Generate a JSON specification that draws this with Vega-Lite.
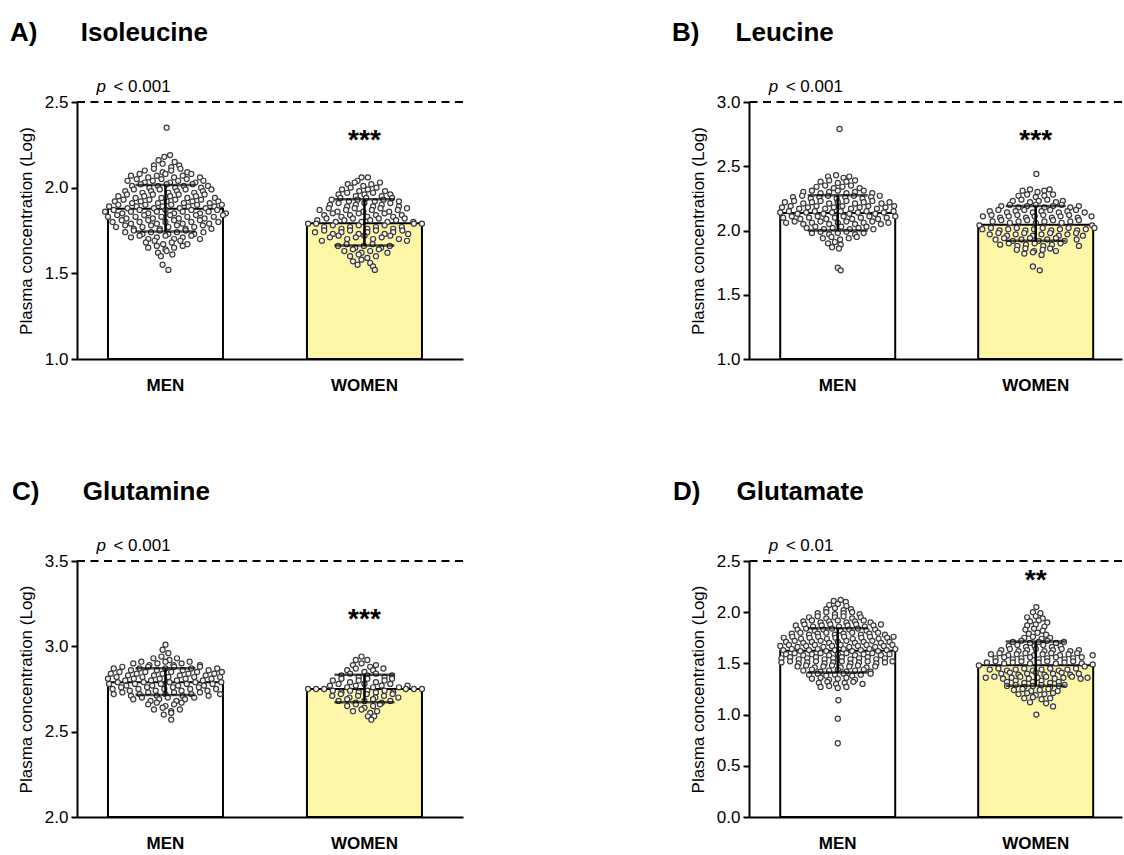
{
"$schema": "https://vega.github.io/schema/vega-lite/v6.json",
"padding": {"left": 10, "top": 20, "right": 0, "bottom": 0},
"columns": 2,
"spacing": {"row": 86, "column": 208},
"align": "all",
"config": {
 "font": "Liberation Sans",
 "view": {"stroke": null},
 "axis": {"grid": false, "domainColor": "#000", "domainWidth": 2, "tickColor": "#000", "tickWidth": 2, "labelColor": "#000", "labelFont": "Liberation Sans", "titleColor": "#000", "titleFont": "Liberation Sans", "titleFontWeight": "normal"},
 "axisY": {"tickSize": 6, "labelPadding": 3, "labelFontSize": 17, "titleFontSize": 17, "titlePadding": 9},
 "axisX": {"ticks": false, "tickSize": 0, "labelFontSize": 17, "labelFontWeight": "bold", "labelPadding": 18, "labelAngle": 0},
 "title": {"anchor": "start", "frame": "group", "font": "Liberation Sans", "fontSize": 26, "fontWeight": "bold", "color": "#000", "baseline": "alphabetic", "offset": 32},
 "text": {"font": "Liberation Sans", "color": "#000"}
},
"datasets": {
 "sA": [{"g":"M","mean":1.877,"lo":1.744,"hi":2.015},{"g":"W","mean":1.793,"lo":1.662,"hi":1.932}],
 "sB": [{"g":"M","mean":2.136,"lo":2.0,"hi":2.274},{"g":"W","mean":2.045,"lo":1.92,"hi":2.19}],
 "sC": [{"g":"M","mean":2.789,"lo":2.715,"hi":2.872},{"g":"W","mean":2.75,"lo":2.673,"hi":2.834}],
 "sD": [{"g":"M","mean":1.624,"lo":1.41,"hi":1.844},{"g":"W","mean":1.483,"lo":1.282,"hi":1.714}],
 "A": [
{"g":"M","j":0.02,"v":2.35},
{"g":"M","j":-0.02,"v":2.18},{"g":"M","j":0.08,"v":2.19},
{"g":"M","j":-0.12,"v":2.16},{"g":"M","j":0.16,"v":2.15},
{"g":"M","j":-0.2,"v":2.13},{"g":"M","j":-0.05,"v":2.14},{"g":"M","j":0.1,"v":2.12},{"g":"M","j":0.24,"v":2.13},
{"g":"M","j":-0.36,"v":2.10},{"g":"M","j":-0.2,"v":2.11},{"g":"M","j":-0.05,"v":2.09},{"g":"M","j":0.1,"v":2.10},{"g":"M","j":0.26,"v":2.11},{"g":"M","j":0.38,"v":2.09},
{"g":"M","j":-0.6,"v":2.07},{"g":"M","j":-0.45,"v":2.08},{"g":"M","j":-0.3,"v":2.06},{"g":"M","j":-0.15,"v":2.07},{"g":"M","j":0,"v":2.08},{"g":"M","j":0.15,"v":2.06},{"g":"M","j":0.3,"v":2.07},{"g":"M","j":0.45,"v":2.08},{"g":"M","j":0.6,"v":2.06},
{"g":"M","j":-0.66,"v":2.04},{"g":"M","j":-0.5,"v":2.05},{"g":"M","j":-0.36,"v":2.03},{"g":"M","j":-0.22,"v":2.04},{"g":"M","j":-0.07,"v":2.05},{"g":"M","j":0.08,"v":2.03},{"g":"M","j":0.22,"v":2.04},{"g":"M","j":0.37,"v":2.05},{"g":"M","j":0.52,"v":2.03},{"g":"M","j":0.66,"v":2.04},
{"g":"M","j":-0.58,"v":2.01},{"g":"M","j":-0.43,"v":2.02},{"g":"M","j":-0.28,"v":2.00},{"g":"M","j":-0.13,"v":2.01},{"g":"M","j":0.02,"v":2.02},{"g":"M","j":0.17,"v":2.00},{"g":"M","j":0.32,"v":2.01},{"g":"M","j":0.47,"v":2.02},{"g":"M","j":0.62,"v":2.00},{"g":"M","j":0.74,"v":2.01},
{"g":"M","j":-0.7,"v":1.98},{"g":"M","j":-0.55,"v":1.99},{"g":"M","j":-0.4,"v":1.97},{"g":"M","j":-0.25,"v":1.98},{"g":"M","j":-0.1,"v":1.99},{"g":"M","j":0.05,"v":1.97},{"g":"M","j":0.2,"v":1.98},{"g":"M","j":0.35,"v":1.99},{"g":"M","j":0.5,"v":1.97},{"g":"M","j":0.65,"v":1.98},{"g":"M","j":0.8,"v":1.99},
{"g":"M","j":-0.82,"v":1.95},{"g":"M","j":-0.67,"v":1.96},{"g":"M","j":-0.52,"v":1.94},{"g":"M","j":-0.37,"v":1.95},{"g":"M","j":-0.22,"v":1.96},{"g":"M","j":-0.07,"v":1.94},{"g":"M","j":0.08,"v":1.95},{"g":"M","j":0.23,"v":1.96},{"g":"M","j":0.38,"v":1.94},{"g":"M","j":0.53,"v":1.95},{"g":"M","j":0.68,"v":1.96},{"g":"M","j":0.86,"v":1.94},
{"g":"M","j":-0.88,"v":1.92},{"g":"M","j":-0.73,"v":1.93},{"g":"M","j":-0.58,"v":1.91},{"g":"M","j":-0.43,"v":1.92},{"g":"M","j":-0.28,"v":1.93},{"g":"M","j":-0.13,"v":1.91},{"g":"M","j":0.02,"v":1.92},{"g":"M","j":0.17,"v":1.93},{"g":"M","j":0.32,"v":1.91},{"g":"M","j":0.47,"v":1.92},{"g":"M","j":0.62,"v":1.93},{"g":"M","j":0.77,"v":1.91},{"g":"M","j":0.92,"v":1.92},
{"g":"M","j":-0.98,"v":1.89},{"g":"M","j":-0.82,"v":1.90},{"g":"M","j":-0.66,"v":1.88},{"g":"M","j":-0.5,"v":1.89},{"g":"M","j":-0.35,"v":1.90},{"g":"M","j":-0.2,"v":1.88},{"g":"M","j":-0.05,"v":1.89},{"g":"M","j":0.1,"v":1.90},{"g":"M","j":0.25,"v":1.88},{"g":"M","j":0.4,"v":1.89},{"g":"M","j":0.55,"v":1.90},{"g":"M","j":0.7,"v":1.88},{"g":"M","j":0.85,"v":1.89},{"g":"M","j":0.98,"v":1.90},
{"g":"M","j":-1.05,"v":1.86},{"g":"M","j":-0.9,"v":1.87},{"g":"M","j":-0.75,"v":1.85},{"g":"M","j":-0.6,"v":1.86},{"g":"M","j":-0.45,"v":1.87},{"g":"M","j":-0.3,"v":1.85},{"g":"M","j":-0.15,"v":1.86},{"g":"M","j":0,"v":1.87},{"g":"M","j":0.15,"v":1.85},{"g":"M","j":0.3,"v":1.86},{"g":"M","j":0.45,"v":1.87},{"g":"M","j":0.6,"v":1.85},{"g":"M","j":0.75,"v":1.86},{"g":"M","j":0.9,"v":1.87},{"g":"M","j":1.05,"v":1.85},
{"g":"M","j":-1,"v":1.83},{"g":"M","j":-0.84,"v":1.84},{"g":"M","j":-0.68,"v":1.82},{"g":"M","j":-0.52,"v":1.83},{"g":"M","j":-0.37,"v":1.84},{"g":"M","j":-0.22,"v":1.82},{"g":"M","j":-0.07,"v":1.83},{"g":"M","j":0.08,"v":1.84},{"g":"M","j":0.23,"v":1.82},{"g":"M","j":0.38,"v":1.83},{"g":"M","j":0.53,"v":1.84},{"g":"M","j":0.68,"v":1.82},{"g":"M","j":0.84,"v":1.83},{"g":"M","j":1,"v":1.84},
{"g":"M","j":-0.92,"v":1.80},{"g":"M","j":-0.76,"v":1.81},{"g":"M","j":-0.6,"v":1.79},{"g":"M","j":-0.45,"v":1.80},{"g":"M","j":-0.3,"v":1.81},{"g":"M","j":-0.15,"v":1.79},{"g":"M","j":0,"v":1.80},{"g":"M","j":0.15,"v":1.81},{"g":"M","j":0.3,"v":1.79},{"g":"M","j":0.45,"v":1.80},{"g":"M","j":0.6,"v":1.81},{"g":"M","j":0.76,"v":1.79},{"g":"M","j":0.92,"v":1.80},
{"g":"M","j":-0.86,"v":1.77},{"g":"M","j":-0.7,"v":1.78},{"g":"M","j":-0.55,"v":1.76},{"g":"M","j":-0.4,"v":1.77},{"g":"M","j":-0.25,"v":1.78},{"g":"M","j":-0.1,"v":1.76},{"g":"M","j":0.05,"v":1.77},{"g":"M","j":0.2,"v":1.78},{"g":"M","j":0.35,"v":1.76},{"g":"M","j":0.5,"v":1.77},{"g":"M","j":0.65,"v":1.78},{"g":"M","j":0.8,"v":1.76},
{"g":"M","j":-0.7,"v":1.74},{"g":"M","j":-0.55,"v":1.75},{"g":"M","j":-0.4,"v":1.73},{"g":"M","j":-0.25,"v":1.74},{"g":"M","j":-0.1,"v":1.75},{"g":"M","j":0.05,"v":1.73},{"g":"M","j":0.2,"v":1.74},{"g":"M","j":0.35,"v":1.75},{"g":"M","j":0.5,"v":1.73},{"g":"M","j":0.66,"v":1.74},
{"g":"M","j":-0.6,"v":1.71},{"g":"M","j":-0.45,"v":1.72},{"g":"M","j":-0.3,"v":1.70},{"g":"M","j":-0.15,"v":1.71},{"g":"M","j":0,"v":1.72},{"g":"M","j":0.15,"v":1.70},{"g":"M","j":0.3,"v":1.71},{"g":"M","j":0.45,"v":1.72},{"g":"M","j":0.6,"v":1.70},
{"g":"M","j":-0.34,"v":1.68},{"g":"M","j":-0.19,"v":1.69},{"g":"M","j":-0.04,"v":1.67},{"g":"M","j":0.11,"v":1.68},{"g":"M","j":0.26,"v":1.69},{"g":"M","j":0.38,"v":1.67},
{"g":"M","j":-0.3,"v":1.65},{"g":"M","j":-0.15,"v":1.66},{"g":"M","j":0,"v":1.64},{"g":"M","j":0.15,"v":1.65},{"g":"M","j":0.3,"v":1.66},
{"g":"M","j":-0.13,"v":1.62},{"g":"M","j":0.02,"v":1.63},{"g":"M","j":0.12,"v":1.61},
{"g":"M","j":-0.08,"v":1.60},{"g":"M","j":-0.05,"v":1.55},{"g":"M","j":0.05,"v":1.52},
{"g":"W","j":-0.05,"v":2.06},{"g":"W","j":0.06,"v":2.06},{"g":"W","j":-0.12,"v":2.04},
{"g":"W","j":-0.29,"v":2.02},{"g":"W","j":-0.17,"v":2.03},{"g":"W","j":-0.02,"v":2.01},{"g":"W","j":0.12,"v":2.02},{"g":"W","j":0.27,"v":2.03},
{"g":"W","j":-0.39,"v":1.99},{"g":"W","j":-0.24,"v":2.00},{"g":"W","j":-0.09,"v":1.98},{"g":"W","j":0.06,"v":1.99},{"g":"W","j":0.21,"v":2.00},{"g":"W","j":0.36,"v":1.98},
{"g":"W","j":-0.45,"v":1.96},{"g":"W","j":-0.3,"v":1.97},{"g":"W","j":-0.15,"v":1.95},{"g":"W","j":0,"v":1.96},{"g":"W","j":0.15,"v":1.97},{"g":"W","j":0.3,"v":1.95},{"g":"W","j":0.45,"v":1.96},
{"g":"W","j":-0.57,"v":1.93},{"g":"W","j":-0.42,"v":1.94},{"g":"W","j":-0.27,"v":1.92},{"g":"W","j":-0.12,"v":1.93},{"g":"W","j":0.03,"v":1.94},{"g":"W","j":0.18,"v":1.92},{"g":"W","j":0.33,"v":1.93},{"g":"W","j":0.48,"v":1.94},{"g":"W","j":0.6,"v":1.92},
{"g":"W","j":-0.6,"v":1.90},{"g":"W","j":-0.45,"v":1.91},{"g":"W","j":-0.3,"v":1.89},{"g":"W","j":-0.15,"v":1.90},{"g":"W","j":0,"v":1.91},{"g":"W","j":0.15,"v":1.89},{"g":"W","j":0.3,"v":1.90},{"g":"W","j":0.45,"v":1.91},{"g":"W","j":0.6,"v":1.89},
{"g":"W","j":-0.78,"v":1.87},{"g":"W","j":-0.62,"v":1.88},{"g":"W","j":-0.47,"v":1.86},{"g":"W","j":-0.32,"v":1.87},{"g":"W","j":-0.17,"v":1.88},{"g":"W","j":-0.02,"v":1.86},{"g":"W","j":0.13,"v":1.87},{"g":"W","j":0.28,"v":1.88},{"g":"W","j":0.43,"v":1.86},{"g":"W","j":0.58,"v":1.87},{"g":"W","j":0.74,"v":1.88},
{"g":"W","j":-0.7,"v":1.84},{"g":"W","j":-0.55,"v":1.85},{"g":"W","j":-0.4,"v":1.83},{"g":"W","j":-0.25,"v":1.84},{"g":"W","j":-0.1,"v":1.85},{"g":"W","j":0.05,"v":1.83},{"g":"W","j":0.2,"v":1.84},{"g":"W","j":0.35,"v":1.85},{"g":"W","j":0.5,"v":1.83},{"g":"W","j":0.65,"v":1.84},
{"g":"W","j":-0.82,"v":1.81},{"g":"W","j":-0.66,"v":1.82},{"g":"W","j":-0.5,"v":1.80},{"g":"W","j":-0.35,"v":1.81},{"g":"W","j":-0.2,"v":1.82},{"g":"W","j":-0.05,"v":1.80},{"g":"W","j":0.1,"v":1.81},{"g":"W","j":0.25,"v":1.82},{"g":"W","j":0.4,"v":1.80},{"g":"W","j":0.55,"v":1.81},{"g":"W","j":0.7,"v":1.82},{"g":"W","j":0.85,"v":1.80},
{"g":"W","j":-0.98,"v":1.79},{"g":"W","j":-0.84,"v":1.79},{"g":"W","j":0.86,"v":1.79},{"g":"W","j":1,"v":1.79},
{"g":"W","j":-0.7,"v":1.77},{"g":"W","j":-0.55,"v":1.78},{"g":"W","j":-0.4,"v":1.76},{"g":"W","j":-0.25,"v":1.77},{"g":"W","j":-0.1,"v":1.78},{"g":"W","j":0.05,"v":1.76},{"g":"W","j":0.2,"v":1.77},{"g":"W","j":0.35,"v":1.78},{"g":"W","j":0.5,"v":1.76},{"g":"W","j":0.65,"v":1.77},
{"g":"W","j":-0.86,"v":1.74},{"g":"W","j":-0.7,"v":1.75},{"g":"W","j":-0.55,"v":1.73},{"g":"W","j":-0.4,"v":1.74},{"g":"W","j":-0.25,"v":1.75},{"g":"W","j":-0.1,"v":1.73},{"g":"W","j":0.05,"v":1.74},{"g":"W","j":0.2,"v":1.75},{"g":"W","j":0.35,"v":1.73},{"g":"W","j":0.5,"v":1.74},{"g":"W","j":0.66,"v":1.75},{"g":"W","j":0.76,"v":1.73},
{"g":"W","j":-0.6,"v":1.71},{"g":"W","j":-0.45,"v":1.72},{"g":"W","j":-0.3,"v":1.70},{"g":"W","j":-0.15,"v":1.71},{"g":"W","j":0,"v":1.72},{"g":"W","j":0.15,"v":1.70},{"g":"W","j":0.3,"v":1.71},{"g":"W","j":0.45,"v":1.72},{"g":"W","j":0.6,"v":1.70},
{"g":"W","j":-0.74,"v":1.69},{"g":"W","j":0.74,"v":1.69},
{"g":"W","j":-0.46,"v":1.66},{"g":"W","j":-0.31,"v":1.67},{"g":"W","j":-0.16,"v":1.65},{"g":"W","j":-0.01,"v":1.66},{"g":"W","j":0.14,"v":1.67},{"g":"W","j":0.29,"v":1.65},{"g":"W","j":0.44,"v":1.66},
{"g":"W","j":-0.35,"v":1.63},{"g":"W","j":-0.2,"v":1.64},{"g":"W","j":-0.05,"v":1.62},{"g":"W","j":0.1,"v":1.63},{"g":"W","j":0.25,"v":1.64},{"g":"W","j":0.4,"v":1.62},
{"g":"W","j":-0.25,"v":1.60},{"g":"W","j":-0.1,"v":1.61},{"g":"W","j":0.05,"v":1.59},{"g":"W","j":0.2,"v":1.60},
{"g":"W","j":-0.2,"v":1.57},{"g":"W","j":-0.05,"v":1.58},{"g":"W","j":0.1,"v":1.56},
{"g":"W","j":-0.12,"v":1.55},{"g":"W","j":0.15,"v":1.54},{"g":"W","j":0.18,"v":1.52}
 ],
 "B": [
{"g":"M","j":0.03,"v":2.79},
{"g":"M","j":-0.17,"v":2.42},{"g":"M","j":-0.03,"v":2.43},{"g":"M","j":0.1,"v":2.41},{"g":"M","j":0.2,"v":2.42},
{"g":"M","j":-0.3,"v":2.38},{"g":"M","j":-0.15,"v":2.39},{"g":"M","j":0,"v":2.37},{"g":"M","j":0.15,"v":2.38},{"g":"M","j":0.3,"v":2.39},
{"g":"M","j":-0.37,"v":2.34},{"g":"M","j":-0.22,"v":2.35},{"g":"M","j":-0.07,"v":2.33},{"g":"M","j":0.08,"v":2.34},{"g":"M","j":0.23,"v":2.35},{"g":"M","j":0.38,"v":2.33},
{"g":"M","j":-0.6,"v":2.30},{"g":"M","j":-0.45,"v":2.31},{"g":"M","j":-0.3,"v":2.29},{"g":"M","j":-0.15,"v":2.30},{"g":"M","j":0,"v":2.31},{"g":"M","j":0.15,"v":2.29},{"g":"M","j":0.3,"v":2.30},{"g":"M","j":0.45,"v":2.31},{"g":"M","j":0.6,"v":2.29},
{"g":"M","j":-0.78,"v":2.26},{"g":"M","j":-0.62,"v":2.27},{"g":"M","j":-0.47,"v":2.25},{"g":"M","j":-0.32,"v":2.26},{"g":"M","j":-0.17,"v":2.27},{"g":"M","j":-0.02,"v":2.25},{"g":"M","j":0.13,"v":2.26},{"g":"M","j":0.28,"v":2.27},{"g":"M","j":0.43,"v":2.25},{"g":"M","j":0.58,"v":2.26},{"g":"M","j":0.73,"v":2.27},
{"g":"M","j":-0.92,"v":2.22},{"g":"M","j":-0.76,"v":2.23},{"g":"M","j":-0.6,"v":2.21},{"g":"M","j":-0.45,"v":2.22},{"g":"M","j":-0.3,"v":2.23},{"g":"M","j":-0.15,"v":2.21},{"g":"M","j":0,"v":2.22},{"g":"M","j":0.15,"v":2.23},{"g":"M","j":0.3,"v":2.21},{"g":"M","j":0.45,"v":2.22},{"g":"M","j":0.6,"v":2.23},{"g":"M","j":0.76,"v":2.21},{"g":"M","j":0.9,"v":2.22},
{"g":"M","j":-0.97,"v":2.18},{"g":"M","j":-0.82,"v":2.19},{"g":"M","j":-0.67,"v":2.17},{"g":"M","j":-0.52,"v":2.18},{"g":"M","j":-0.37,"v":2.19},{"g":"M","j":-0.22,"v":2.17},{"g":"M","j":-0.07,"v":2.18},{"g":"M","j":0.08,"v":2.19},{"g":"M","j":0.23,"v":2.17},{"g":"M","j":0.38,"v":2.18},{"g":"M","j":0.53,"v":2.19},{"g":"M","j":0.68,"v":2.17},{"g":"M","j":0.83,"v":2.18},{"g":"M","j":0.98,"v":2.19},
{"g":"M","j":-1,"v":2.14},{"g":"M","j":-0.85,"v":2.15},{"g":"M","j":-0.7,"v":2.13},{"g":"M","j":-0.55,"v":2.14},{"g":"M","j":-0.4,"v":2.15},{"g":"M","j":-0.25,"v":2.13},{"g":"M","j":-0.1,"v":2.14},{"g":"M","j":0.05,"v":2.15},{"g":"M","j":0.2,"v":2.13},{"g":"M","j":0.35,"v":2.14},{"g":"M","j":0.5,"v":2.15},{"g":"M","j":0.65,"v":2.13},{"g":"M","j":0.8,"v":2.14},{"g":"M","j":0.97,"v":2.15},
{"g":"M","j":-0.95,"v":2.10},{"g":"M","j":-0.8,"v":2.11},{"g":"M","j":-0.65,"v":2.09},{"g":"M","j":-0.5,"v":2.10},{"g":"M","j":-0.35,"v":2.11},{"g":"M","j":-0.2,"v":2.09},{"g":"M","j":-0.05,"v":2.10},{"g":"M","j":0.1,"v":2.11},{"g":"M","j":0.25,"v":2.09},{"g":"M","j":0.4,"v":2.10},{"g":"M","j":0.55,"v":2.11},{"g":"M","j":0.7,"v":2.09},{"g":"M","j":0.85,"v":2.10},{"g":"M","j":1,"v":2.11},
{"g":"M","j":-0.9,"v":2.06},{"g":"M","j":-0.75,"v":2.07},{"g":"M","j":-0.6,"v":2.05},{"g":"M","j":-0.45,"v":2.06},{"g":"M","j":-0.3,"v":2.07},{"g":"M","j":-0.15,"v":2.05},{"g":"M","j":0,"v":2.06},{"g":"M","j":0.15,"v":2.07},{"g":"M","j":0.3,"v":2.05},{"g":"M","j":0.45,"v":2.06},{"g":"M","j":0.6,"v":2.07},{"g":"M","j":0.75,"v":2.05},{"g":"M","j":0.88,"v":2.06},
{"g":"M","j":-0.54,"v":2.02},{"g":"M","j":-0.39,"v":2.03},{"g":"M","j":-0.24,"v":2.01},{"g":"M","j":-0.09,"v":2.02},{"g":"M","j":0.06,"v":2.03},{"g":"M","j":0.21,"v":2.01},{"g":"M","j":0.36,"v":2.02},{"g":"M","j":0.5,"v":2.03},{"g":"M","j":0.62,"v":2.01},
{"g":"M","j":-0.45,"v":1.98},{"g":"M","j":-0.3,"v":1.99},{"g":"M","j":-0.15,"v":1.97},{"g":"M","j":0,"v":1.98},{"g":"M","j":0.15,"v":1.99},{"g":"M","j":0.3,"v":1.97},{"g":"M","j":0.45,"v":1.98},
{"g":"M","j":-0.26,"v":1.94},{"g":"M","j":-0.11,"v":1.95},{"g":"M","j":0.04,"v":1.93},{"g":"M","j":0.19,"v":1.94},{"g":"M","j":0.33,"v":1.95},
{"g":"M","j":-0.17,"v":1.90},{"g":"M","j":-0.05,"v":1.91},{"g":"M","j":0.05,"v":1.89},
{"g":"M","j":-0.1,"v":1.87},{"g":"M","j":0.02,"v":1.86},
{"g":"M","j":0,"v":1.71},{"g":"M","j":0.05,"v":1.69},
{"g":"W","j":0.01,"v":2.44},
{"g":"W","j":-0.23,"v":2.31},{"g":"W","j":-0.1,"v":2.32},{"g":"W","j":0.03,"v":2.30},{"g":"W","j":0.15,"v":2.31},{"g":"W","j":0.24,"v":2.32},
{"g":"W","j":-0.3,"v":2.27},{"g":"W","j":-0.15,"v":2.28},{"g":"W","j":0,"v":2.26},{"g":"W","j":0.15,"v":2.27},{"g":"W","j":0.3,"v":2.28},
{"g":"W","j":-0.4,"v":2.23},{"g":"W","j":-0.25,"v":2.24},{"g":"W","j":-0.1,"v":2.22},{"g":"W","j":0.05,"v":2.23},{"g":"W","j":0.2,"v":2.24},{"g":"W","j":0.35,"v":2.22},{"g":"W","j":0.47,"v":2.23},
{"g":"W","j":-0.6,"v":2.19},{"g":"W","j":-0.45,"v":2.20},{"g":"W","j":-0.3,"v":2.18},{"g":"W","j":-0.15,"v":2.19},{"g":"W","j":0,"v":2.20},{"g":"W","j":0.15,"v":2.18},{"g":"W","j":0.3,"v":2.19},{"g":"W","j":0.45,"v":2.20},{"g":"W","j":0.6,"v":2.18},{"g":"W","j":0.75,"v":2.19},
{"g":"W","j":-0.8,"v":2.15},{"g":"W","j":-0.65,"v":2.16},{"g":"W","j":-0.5,"v":2.14},{"g":"W","j":-0.35,"v":2.15},{"g":"W","j":-0.2,"v":2.16},{"g":"W","j":-0.05,"v":2.14},{"g":"W","j":0.1,"v":2.15},{"g":"W","j":0.25,"v":2.16},{"g":"W","j":0.4,"v":2.14},{"g":"W","j":0.55,"v":2.15},{"g":"W","j":0.7,"v":2.16},{"g":"W","j":0.85,"v":2.14},
{"g":"W","j":-0.92,"v":2.11},{"g":"W","j":-0.77,"v":2.12},{"g":"W","j":-0.62,"v":2.10},{"g":"W","j":-0.47,"v":2.11},{"g":"W","j":-0.32,"v":2.12},{"g":"W","j":-0.17,"v":2.10},{"g":"W","j":-0.02,"v":2.11},{"g":"W","j":0.13,"v":2.12},{"g":"W","j":0.28,"v":2.10},{"g":"W","j":0.43,"v":2.11},{"g":"W","j":0.58,"v":2.12},{"g":"W","j":0.73,"v":2.10},{"g":"W","j":0.97,"v":2.11},
{"g":"W","j":-0.75,"v":2.07},{"g":"W","j":-0.6,"v":2.08},{"g":"W","j":-0.45,"v":2.06},{"g":"W","j":-0.3,"v":2.07},{"g":"W","j":-0.15,"v":2.08},{"g":"W","j":0,"v":2.06},{"g":"W","j":0.15,"v":2.07},{"g":"W","j":0.3,"v":2.08},{"g":"W","j":0.45,"v":2.06},{"g":"W","j":0.6,"v":2.07},{"g":"W","j":0.75,"v":2.08},
{"g":"W","j":-0.98,"v":2.04},{"g":"W","j":0.98,"v":2.04},
{"g":"W","j":-0.93,"v":2.01},{"g":"W","j":-0.78,"v":2.02},{"g":"W","j":-0.63,"v":2.00},{"g":"W","j":-0.48,"v":2.01},{"g":"W","j":-0.33,"v":2.02},{"g":"W","j":-0.18,"v":2.00},{"g":"W","j":-0.03,"v":2.01},{"g":"W","j":0.12,"v":2.02},{"g":"W","j":0.27,"v":2.00},{"g":"W","j":0.42,"v":2.01},{"g":"W","j":0.57,"v":2.02},{"g":"W","j":0.72,"v":2.00},{"g":"W","j":0.87,"v":2.01},{"g":"W","j":1.02,"v":2.02},
{"g":"W","j":-0.8,"v":1.97},{"g":"W","j":-0.65,"v":1.98},{"g":"W","j":-0.5,"v":1.96},{"g":"W","j":-0.35,"v":1.97},{"g":"W","j":-0.2,"v":1.98},{"g":"W","j":-0.05,"v":1.96},{"g":"W","j":0.1,"v":1.97},{"g":"W","j":0.25,"v":1.98},{"g":"W","j":0.4,"v":1.96},{"g":"W","j":0.55,"v":1.97},{"g":"W","j":0.7,"v":1.98},{"g":"W","j":0.82,"v":1.96},
{"g":"W","j":-0.7,"v":1.93},{"g":"W","j":-0.55,"v":1.94},{"g":"W","j":-0.4,"v":1.92},{"g":"W","j":-0.25,"v":1.93},{"g":"W","j":-0.1,"v":1.94},{"g":"W","j":0.05,"v":1.92},{"g":"W","j":0.2,"v":1.93},{"g":"W","j":0.35,"v":1.94},{"g":"W","j":0.5,"v":1.92},{"g":"W","j":0.71,"v":1.93},
{"g":"W","j":-0.62,"v":1.89},{"g":"W","j":-0.47,"v":1.90},{"g":"W","j":-0.32,"v":1.88},{"g":"W","j":-0.17,"v":1.89},{"g":"W","j":-0.02,"v":1.90},{"g":"W","j":0.13,"v":1.88},{"g":"W","j":0.28,"v":1.89},{"g":"W","j":0.43,"v":1.90},{"g":"W","j":0.75,"v":1.88},
{"g":"W","j":-0.33,"v":1.85},{"g":"W","j":-0.18,"v":1.86},{"g":"W","j":-0.03,"v":1.84},{"g":"W","j":0.12,"v":1.85},{"g":"W","j":0.25,"v":1.86},{"g":"W","j":0.35,"v":1.84},
{"g":"W","j":-0.2,"v":1.82},{"g":"W","j":-0.05,"v":1.83},{"g":"W","j":0.1,"v":1.81},
{"g":"W","j":-0.05,"v":1.72},{"g":"W","j":0.07,"v":1.69}
 ],
 "C": [
{"g":"M","j":0,"v":3.01},{"g":"M","j":-0.05,"v":2.98},{"g":"M","j":0.05,"v":2.96},
{"g":"M","j":-0.21,"v":2.93},{"g":"M","j":-0.07,"v":2.94},{"g":"M","j":0.07,"v":2.92},{"g":"M","j":0.2,"v":2.93},
{"g":"M","j":-0.56,"v":2.90},{"g":"M","j":-0.42,"v":2.91},{"g":"M","j":-0.28,"v":2.89},{"g":"M","j":-0.14,"v":2.90},{"g":"M","j":0,"v":2.91},{"g":"M","j":0.14,"v":2.89},{"g":"M","j":0.28,"v":2.90},{"g":"M","j":0.42,"v":2.91},{"g":"M","j":0.6,"v":2.89},
{"g":"M","j":-0.9,"v":2.87},{"g":"M","j":-0.75,"v":2.88},{"g":"M","j":-0.6,"v":2.86},{"g":"M","j":-0.45,"v":2.87},{"g":"M","j":-0.3,"v":2.88},{"g":"M","j":-0.15,"v":2.86},{"g":"M","j":0,"v":2.87},{"g":"M","j":0.15,"v":2.88},{"g":"M","j":0.3,"v":2.86},{"g":"M","j":0.45,"v":2.87},{"g":"M","j":0.6,"v":2.88},{"g":"M","j":0.75,"v":2.86},{"g":"M","j":0.9,"v":2.87},
{"g":"M","j":-0.95,"v":2.84},{"g":"M","j":-0.8,"v":2.85},{"g":"M","j":-0.65,"v":2.83},{"g":"M","j":-0.5,"v":2.84},{"g":"M","j":-0.35,"v":2.85},{"g":"M","j":-0.2,"v":2.83},{"g":"M","j":-0.05,"v":2.84},{"g":"M","j":0.1,"v":2.85},{"g":"M","j":0.25,"v":2.83},{"g":"M","j":0.4,"v":2.84},{"g":"M","j":0.55,"v":2.85},{"g":"M","j":0.7,"v":2.83},{"g":"M","j":0.85,"v":2.84},{"g":"M","j":0.98,"v":2.85},
{"g":"M","j":-1,"v":2.81},{"g":"M","j":-0.85,"v":2.82},{"g":"M","j":-0.7,"v":2.80},{"g":"M","j":-0.55,"v":2.81},{"g":"M","j":-0.4,"v":2.82},{"g":"M","j":-0.25,"v":2.80},{"g":"M","j":-0.1,"v":2.81},{"g":"M","j":0.05,"v":2.82},{"g":"M","j":0.2,"v":2.80},{"g":"M","j":0.35,"v":2.81},{"g":"M","j":0.5,"v":2.82},{"g":"M","j":0.65,"v":2.80},{"g":"M","j":0.8,"v":2.81},{"g":"M","j":0.95,"v":2.82},
{"g":"M","j":-0.98,"v":2.78},{"g":"M","j":-0.83,"v":2.79},{"g":"M","j":-0.68,"v":2.77},{"g":"M","j":-0.53,"v":2.78},{"g":"M","j":-0.38,"v":2.79},{"g":"M","j":-0.23,"v":2.77},{"g":"M","j":-0.08,"v":2.78},{"g":"M","j":0.07,"v":2.79},{"g":"M","j":0.22,"v":2.77},{"g":"M","j":0.37,"v":2.78},{"g":"M","j":0.52,"v":2.79},{"g":"M","j":0.67,"v":2.77},{"g":"M","j":0.82,"v":2.78},{"g":"M","j":0.97,"v":2.79},
{"g":"M","j":-0.92,"v":2.75},{"g":"M","j":-0.77,"v":2.76},{"g":"M","j":-0.62,"v":2.74},{"g":"M","j":-0.47,"v":2.75},{"g":"M","j":-0.32,"v":2.76},{"g":"M","j":-0.17,"v":2.74},{"g":"M","j":-0.02,"v":2.75},{"g":"M","j":0.13,"v":2.76},{"g":"M","j":0.28,"v":2.74},{"g":"M","j":0.43,"v":2.75},{"g":"M","j":0.58,"v":2.76},{"g":"M","j":0.73,"v":2.74},{"g":"M","j":0.88,"v":2.75},
{"g":"M","j":-0.9,"v":2.72},{"g":"M","j":-0.75,"v":2.73},{"g":"M","j":-0.6,"v":2.71},{"g":"M","j":-0.45,"v":2.72},{"g":"M","j":-0.3,"v":2.73},{"g":"M","j":-0.15,"v":2.71},{"g":"M","j":0,"v":2.72},{"g":"M","j":0.15,"v":2.73},{"g":"M","j":0.3,"v":2.71},{"g":"M","j":0.45,"v":2.72},{"g":"M","j":0.6,"v":2.73},{"g":"M","j":0.75,"v":2.71},{"g":"M","j":0.95,"v":2.72},
{"g":"M","j":-0.56,"v":2.69},{"g":"M","j":-0.41,"v":2.70},{"g":"M","j":-0.26,"v":2.68},{"g":"M","j":-0.11,"v":2.69},{"g":"M","j":0.04,"v":2.70},{"g":"M","j":0.19,"v":2.68},{"g":"M","j":0.34,"v":2.69},{"g":"M","j":0.5,"v":2.70},
{"g":"M","j":-0.3,"v":2.66},{"g":"M","j":-0.15,"v":2.67},{"g":"M","j":0,"v":2.65},{"g":"M","j":0.15,"v":2.66},{"g":"M","j":0.28,"v":2.67},
{"g":"M","j":-0.2,"v":2.63},{"g":"M","j":-0.05,"v":2.64},{"g":"M","j":0.1,"v":2.62},{"g":"M","j":0.25,"v":2.63},
{"g":"M","j":-0.03,"v":2.60},{"g":"M","j":0.1,"v":2.61},{"g":"M","j":0.1,"v":2.57},
{"g":"W","j":-0.05,"v":2.94},{"g":"W","j":-0.15,"v":2.92},{"g":"W","j":0.05,"v":2.92},
{"g":"W","j":-0.2,"v":2.89},{"g":"W","j":-0.05,"v":2.90},{"g":"W","j":0.1,"v":2.88},{"g":"W","j":0.2,"v":2.89},
{"g":"W","j":-0.3,"v":2.86},{"g":"W","j":-0.15,"v":2.87},{"g":"W","j":0,"v":2.85},{"g":"W","j":0.15,"v":2.86},{"g":"W","j":0.33,"v":2.87},
{"g":"W","j":-0.4,"v":2.83},{"g":"W","j":-0.25,"v":2.84},{"g":"W","j":-0.1,"v":2.82},{"g":"W","j":0.05,"v":2.83},{"g":"W","j":0.2,"v":2.84},{"g":"W","j":0.35,"v":2.82},{"g":"W","j":0.48,"v":2.83},
{"g":"W","j":-0.55,"v":2.80},{"g":"W","j":-0.4,"v":2.81},{"g":"W","j":-0.25,"v":2.79},{"g":"W","j":-0.1,"v":2.80},{"g":"W","j":0.05,"v":2.81},{"g":"W","j":0.2,"v":2.79},{"g":"W","j":0.35,"v":2.80},{"g":"W","j":0.48,"v":2.81},
{"g":"W","j":-0.6,"v":2.77},{"g":"W","j":-0.45,"v":2.78},{"g":"W","j":-0.3,"v":2.76},{"g":"W","j":-0.15,"v":2.77},{"g":"W","j":0,"v":2.78},{"g":"W","j":0.15,"v":2.76},{"g":"W","j":0.3,"v":2.77},{"g":"W","j":0.45,"v":2.78},{"g":"W","j":0.6,"v":2.76},{"g":"W","j":0.75,"v":2.77},
{"g":"W","j":-0.98,"v":2.75},{"g":"W","j":-0.84,"v":2.75},{"g":"W","j":-0.7,"v":2.75},{"g":"W","j":0.72,"v":2.75},{"g":"W","j":0.86,"v":2.75},{"g":"W","j":1,"v":2.75},
{"g":"W","j":-0.55,"v":2.74},{"g":"W","j":-0.4,"v":2.73},{"g":"W","j":-0.25,"v":2.74},{"g":"W","j":-0.1,"v":2.73},{"g":"W","j":0.05,"v":2.74},{"g":"W","j":0.2,"v":2.73},{"g":"W","j":0.35,"v":2.74},{"g":"W","j":0.5,"v":2.73},
{"g":"W","j":-0.56,"v":2.71},{"g":"W","j":-0.41,"v":2.72},{"g":"W","j":-0.26,"v":2.70},{"g":"W","j":-0.11,"v":2.71},{"g":"W","j":0.04,"v":2.72},{"g":"W","j":0.19,"v":2.70},{"g":"W","j":0.34,"v":2.71},{"g":"W","j":0.49,"v":2.72},{"g":"W","j":0.59,"v":2.70},
{"g":"W","j":-0.45,"v":2.68},{"g":"W","j":-0.3,"v":2.69},{"g":"W","j":-0.15,"v":2.67},{"g":"W","j":0,"v":2.68},{"g":"W","j":0.15,"v":2.69},{"g":"W","j":0.3,"v":2.67},{"g":"W","j":0.45,"v":2.68},
{"g":"W","j":-0.3,"v":2.65},{"g":"W","j":-0.15,"v":2.66},{"g":"W","j":0,"v":2.64},{"g":"W","j":0.15,"v":2.65},{"g":"W","j":0.27,"v":2.66},
{"g":"W","j":-0.2,"v":2.62},{"g":"W","j":-0.05,"v":2.63},{"g":"W","j":0.1,"v":2.61},{"g":"W","j":0.22,"v":2.62},
{"g":"W","j":0.06,"v":2.59},{"g":"W","j":0.17,"v":2.59},{"g":"W","j":0.12,"v":2.57}
 ],
 "D": [
{"g":"M","j":-0.07,"v":2.11},{"g":"M","j":0.05,"v":2.12},{"g":"M","j":0.14,"v":2.10},
{"g":"M","j":-0.15,"v":2.07},{"g":"M","j":0,"v":2.08},{"g":"M","j":0.15,"v":2.06},
{"g":"M","j":-0.2,"v":2.03},{"g":"M","j":-0.05,"v":2.04},{"g":"M","j":0.1,"v":2.02},{"g":"M","j":0.23,"v":2.03},
{"g":"M","j":-0.35,"v":1.99},{"g":"M","j":-0.2,"v":2.00},{"g":"M","j":-0.05,"v":1.98},{"g":"M","j":0.1,"v":1.99},{"g":"M","j":0.25,"v":2.00},{"g":"M","j":0.38,"v":1.98},
{"g":"M","j":-0.5,"v":1.95},{"g":"M","j":-0.35,"v":1.96},{"g":"M","j":-0.2,"v":1.94},{"g":"M","j":-0.05,"v":1.95},{"g":"M","j":0.1,"v":1.96},{"g":"M","j":0.25,"v":1.94},{"g":"M","j":0.4,"v":1.95},
{"g":"M","j":-0.6,"v":1.91},{"g":"M","j":-0.45,"v":1.92},{"g":"M","j":-0.3,"v":1.90},{"g":"M","j":-0.15,"v":1.91},{"g":"M","j":0,"v":1.92},{"g":"M","j":0.15,"v":1.90},{"g":"M","j":0.3,"v":1.91},{"g":"M","j":0.45,"v":1.92},{"g":"M","j":0.57,"v":1.90},
{"g":"M","j":-0.73,"v":1.87},{"g":"M","j":-0.58,"v":1.88},{"g":"M","j":-0.43,"v":1.86},{"g":"M","j":-0.28,"v":1.87},{"g":"M","j":-0.13,"v":1.88},{"g":"M","j":0.02,"v":1.86},{"g":"M","j":0.17,"v":1.87},{"g":"M","j":0.32,"v":1.88},{"g":"M","j":0.47,"v":1.86},{"g":"M","j":0.62,"v":1.87},{"g":"M","j":0.75,"v":1.88},
{"g":"M","j":-0.7,"v":1.83},{"g":"M","j":-0.55,"v":1.84},{"g":"M","j":-0.4,"v":1.82},{"g":"M","j":-0.25,"v":1.83},{"g":"M","j":-0.1,"v":1.84},{"g":"M","j":0.05,"v":1.82},{"g":"M","j":0.2,"v":1.83},{"g":"M","j":0.35,"v":1.84},{"g":"M","j":0.5,"v":1.82},{"g":"M","j":0.65,"v":1.83},
{"g":"M","j":-0.8,"v":1.79},{"g":"M","j":-0.65,"v":1.80},{"g":"M","j":-0.5,"v":1.78},{"g":"M","j":-0.35,"v":1.79},{"g":"M","j":-0.2,"v":1.80},{"g":"M","j":-0.05,"v":1.78},{"g":"M","j":0.1,"v":1.79},{"g":"M","j":0.25,"v":1.80},{"g":"M","j":0.4,"v":1.78},{"g":"M","j":0.55,"v":1.79},{"g":"M","j":0.7,"v":1.80},{"g":"M","j":0.82,"v":1.78},
{"g":"M","j":-0.94,"v":1.75},{"g":"M","j":-0.79,"v":1.76},{"g":"M","j":-0.64,"v":1.74},{"g":"M","j":-0.49,"v":1.75},{"g":"M","j":-0.34,"v":1.76},{"g":"M","j":-0.19,"v":1.74},{"g":"M","j":-0.04,"v":1.75},{"g":"M","j":0.11,"v":1.76},{"g":"M","j":0.26,"v":1.74},{"g":"M","j":0.41,"v":1.75},{"g":"M","j":0.56,"v":1.76},{"g":"M","j":0.71,"v":1.74},{"g":"M","j":0.86,"v":1.75},{"g":"M","j":0.97,"v":1.76},
{"g":"M","j":-0.9,"v":1.71},{"g":"M","j":-0.75,"v":1.72},{"g":"M","j":-0.6,"v":1.70},{"g":"M","j":-0.45,"v":1.71},{"g":"M","j":-0.3,"v":1.72},{"g":"M","j":-0.15,"v":1.70},{"g":"M","j":0,"v":1.71},{"g":"M","j":0.15,"v":1.72},{"g":"M","j":0.3,"v":1.70},{"g":"M","j":0.45,"v":1.71},{"g":"M","j":0.6,"v":1.72},{"g":"M","j":0.75,"v":1.70},{"g":"M","j":0.9,"v":1.71},
{"g":"M","j":-1,"v":1.67},{"g":"M","j":-0.85,"v":1.68},{"g":"M","j":-0.7,"v":1.66},{"g":"M","j":-0.55,"v":1.67},{"g":"M","j":-0.4,"v":1.68},{"g":"M","j":-0.25,"v":1.66},{"g":"M","j":-0.1,"v":1.67},{"g":"M","j":0.05,"v":1.68},{"g":"M","j":0.2,"v":1.66},{"g":"M","j":0.35,"v":1.67},{"g":"M","j":0.5,"v":1.68},{"g":"M","j":0.65,"v":1.66},{"g":"M","j":0.8,"v":1.67},{"g":"M","j":0.95,"v":1.68},
{"g":"M","j":-0.95,"v":1.63},{"g":"M","j":-0.8,"v":1.64},{"g":"M","j":-0.65,"v":1.62},{"g":"M","j":-0.5,"v":1.63},{"g":"M","j":-0.35,"v":1.64},{"g":"M","j":-0.2,"v":1.62},{"g":"M","j":-0.05,"v":1.63},{"g":"M","j":0.1,"v":1.64},{"g":"M","j":0.25,"v":1.62},{"g":"M","j":0.4,"v":1.63},{"g":"M","j":0.55,"v":1.64},{"g":"M","j":0.7,"v":1.62},{"g":"M","j":0.85,"v":1.63},{"g":"M","j":1,"v":1.64},
{"g":"M","j":-0.9,"v":1.59},{"g":"M","j":-0.75,"v":1.60},{"g":"M","j":-0.6,"v":1.58},{"g":"M","j":-0.45,"v":1.59},{"g":"M","j":-0.3,"v":1.60},{"g":"M","j":-0.15,"v":1.58},{"g":"M","j":0,"v":1.59},{"g":"M","j":0.15,"v":1.60},{"g":"M","j":0.3,"v":1.58},{"g":"M","j":0.45,"v":1.59},{"g":"M","j":0.6,"v":1.60},{"g":"M","j":0.75,"v":1.58},{"g":"M","j":0.9,"v":1.59},
{"g":"M","j":-0.98,"v":1.55},{"g":"M","j":-0.83,"v":1.56},{"g":"M","j":-0.68,"v":1.54},{"g":"M","j":-0.53,"v":1.55},{"g":"M","j":-0.38,"v":1.56},{"g":"M","j":-0.23,"v":1.54},{"g":"M","j":-0.08,"v":1.55},{"g":"M","j":0.07,"v":1.56},{"g":"M","j":0.22,"v":1.54},{"g":"M","j":0.37,"v":1.55},{"g":"M","j":0.52,"v":1.56},{"g":"M","j":0.67,"v":1.54},{"g":"M","j":0.82,"v":1.55},
{"g":"M","j":-0.98,"v":1.51},{"g":"M","j":-0.83,"v":1.52},{"g":"M","j":-0.68,"v":1.50},{"g":"M","j":-0.53,"v":1.51},{"g":"M","j":-0.38,"v":1.52},{"g":"M","j":-0.23,"v":1.50},{"g":"M","j":-0.08,"v":1.51},{"g":"M","j":0.07,"v":1.52},{"g":"M","j":0.22,"v":1.50},{"g":"M","j":0.37,"v":1.51},{"g":"M","j":0.52,"v":1.52},{"g":"M","j":0.67,"v":1.50},{"g":"M","j":0.82,"v":1.51},{"g":"M","j":0.95,"v":1.52},
{"g":"M","j":-0.7,"v":1.47},{"g":"M","j":-0.55,"v":1.48},{"g":"M","j":-0.4,"v":1.46},{"g":"M","j":-0.25,"v":1.47},{"g":"M","j":-0.1,"v":1.48},{"g":"M","j":0.05,"v":1.46},{"g":"M","j":0.2,"v":1.47},{"g":"M","j":0.35,"v":1.48},{"g":"M","j":0.5,"v":1.46},{"g":"M","j":0.65,"v":1.47},
{"g":"M","j":-0.6,"v":1.43},{"g":"M","j":-0.45,"v":1.44},{"g":"M","j":-0.3,"v":1.42},{"g":"M","j":-0.15,"v":1.43},{"g":"M","j":0,"v":1.44},{"g":"M","j":0.15,"v":1.42},{"g":"M","j":0.3,"v":1.43},{"g":"M","j":0.45,"v":1.44},{"g":"M","j":0.57,"v":1.42},
{"g":"M","j":-0.5,"v":1.39},{"g":"M","j":-0.35,"v":1.40},{"g":"M","j":-0.2,"v":1.38},{"g":"M","j":-0.05,"v":1.39},{"g":"M","j":0.1,"v":1.40},{"g":"M","j":0.25,"v":1.38},{"g":"M","j":0.4,"v":1.39},{"g":"M","j":0.57,"v":1.40},
{"g":"M","j":-0.45,"v":1.35},{"g":"M","j":-0.3,"v":1.36},{"g":"M","j":-0.15,"v":1.34},{"g":"M","j":0,"v":1.35},{"g":"M","j":0.15,"v":1.36},{"g":"M","j":0.3,"v":1.34},
{"g":"M","j":-0.33,"v":1.31},{"g":"M","j":-0.18,"v":1.32},{"g":"M","j":-0.03,"v":1.30},{"g":"M","j":0.12,"v":1.31},{"g":"M","j":0.27,"v":1.32},{"g":"M","j":0.43,"v":1.30},
{"g":"M","j":-0.3,"v":1.27},{"g":"M","j":-0.15,"v":1.28},{"g":"M","j":0,"v":1.26},{"g":"M","j":0.15,"v":1.27},
{"g":"M","j":0.01,"v":1.14},{"g":"M","j":0,"v":0.96},{"g":"M","j":0,"v":0.72},
{"g":"W","j":0.01,"v":2.05},
{"g":"W","j":-0.05,"v":2.00},{"g":"W","j":0.08,"v":1.99},
{"g":"W","j":-0.15,"v":1.95},{"g":"W","j":0,"v":1.96},{"g":"W","j":0.12,"v":1.94},
{"g":"W","j":-0.1,"v":1.91},{"g":"W","j":0.05,"v":1.92},{"g":"W","j":0.2,"v":1.90},
{"g":"W","j":-0.15,"v":1.87},{"g":"W","j":0,"v":1.88},{"g":"W","j":0.15,"v":1.86},
{"g":"W","j":-0.18,"v":1.83},{"g":"W","j":-0.03,"v":1.84},{"g":"W","j":0.12,"v":1.82},
{"g":"W","j":-0.12,"v":1.79},{"g":"W","j":0.03,"v":1.80},{"g":"W","j":0.18,"v":1.78},
{"g":"W","j":-0.2,"v":1.75},{"g":"W","j":-0.05,"v":1.76},{"g":"W","j":0.1,"v":1.74},{"g":"W","j":0.25,"v":1.75},
{"g":"W","j":-0.4,"v":1.71},{"g":"W","j":-0.25,"v":1.72},{"g":"W","j":-0.1,"v":1.70},{"g":"W","j":0.05,"v":1.71},{"g":"W","j":0.2,"v":1.72},{"g":"W","j":0.35,"v":1.70},{"g":"W","j":0.49,"v":1.71},
{"g":"W","j":-0.47,"v":1.67},{"g":"W","j":-0.32,"v":1.68},{"g":"W","j":-0.17,"v":1.66},{"g":"W","j":-0.02,"v":1.67},{"g":"W","j":0.13,"v":1.68},{"g":"W","j":0.28,"v":1.66},{"g":"W","j":0.43,"v":1.67},
{"g":"W","j":-0.6,"v":1.63},{"g":"W","j":-0.45,"v":1.64},{"g":"W","j":-0.3,"v":1.62},{"g":"W","j":-0.15,"v":1.63},{"g":"W","j":0,"v":1.64},{"g":"W","j":0.15,"v":1.62},{"g":"W","j":0.3,"v":1.63},{"g":"W","j":0.45,"v":1.64},{"g":"W","j":0.6,"v":1.62},{"g":"W","j":0.75,"v":1.63},
{"g":"W","j":-0.78,"v":1.59},{"g":"W","j":-0.63,"v":1.60},{"g":"W","j":-0.48,"v":1.58},{"g":"W","j":-0.33,"v":1.59},{"g":"W","j":-0.18,"v":1.60},{"g":"W","j":-0.03,"v":1.58},{"g":"W","j":0.12,"v":1.59},{"g":"W","j":0.27,"v":1.60},{"g":"W","j":0.42,"v":1.58},{"g":"W","j":0.57,"v":1.59},{"g":"W","j":0.72,"v":1.60},{"g":"W","j":0.99,"v":1.58},
{"g":"W","j":-0.7,"v":1.55},{"g":"W","j":-0.55,"v":1.56},{"g":"W","j":-0.4,"v":1.54},{"g":"W","j":-0.25,"v":1.55},{"g":"W","j":-0.1,"v":1.56},{"g":"W","j":0.05,"v":1.54},{"g":"W","j":0.2,"v":1.55},{"g":"W","j":0.35,"v":1.56},{"g":"W","j":0.5,"v":1.54},{"g":"W","j":0.65,"v":1.55},{"g":"W","j":0.8,"v":1.56},
{"g":"W","j":-0.85,"v":1.51},{"g":"W","j":-0.7,"v":1.52},{"g":"W","j":-0.55,"v":1.50},{"g":"W","j":-0.4,"v":1.51},{"g":"W","j":-0.25,"v":1.52},{"g":"W","j":-0.1,"v":1.50},{"g":"W","j":0.05,"v":1.51},{"g":"W","j":0.2,"v":1.52},{"g":"W","j":0.35,"v":1.50},{"g":"W","j":0.5,"v":1.51},{"g":"W","j":0.65,"v":1.52},{"g":"W","j":0.8,"v":1.50},
{"g":"W","j":-0.99,"v":1.48},{"g":"W","j":0.85,"v":1.47},{"g":"W","j":0.99,"v":1.49},
{"g":"W","j":-0.8,"v":1.44},{"g":"W","j":-0.65,"v":1.45},{"g":"W","j":-0.5,"v":1.43},{"g":"W","j":-0.35,"v":1.44},{"g":"W","j":-0.2,"v":1.45},{"g":"W","j":-0.05,"v":1.43},{"g":"W","j":0.1,"v":1.44},{"g":"W","j":0.25,"v":1.45},{"g":"W","j":0.4,"v":1.43},{"g":"W","j":0.55,"v":1.44},{"g":"W","j":0.7,"v":1.45},
{"g":"W","j":-0.6,"v":1.40},{"g":"W","j":-0.45,"v":1.41},{"g":"W","j":-0.3,"v":1.39},{"g":"W","j":-0.15,"v":1.40},{"g":"W","j":0,"v":1.41},{"g":"W","j":0.15,"v":1.39},{"g":"W","j":0.3,"v":1.40},{"g":"W","j":0.45,"v":1.41},{"g":"W","j":0.6,"v":1.39},{"g":"W","j":0.75,"v":1.40},
{"g":"W","j":-0.87,"v":1.36},{"g":"W","j":-0.72,"v":1.37},{"g":"W","j":-0.57,"v":1.35},{"g":"W","j":-0.42,"v":1.36},{"g":"W","j":-0.27,"v":1.37},{"g":"W","j":-0.12,"v":1.35},{"g":"W","j":0.03,"v":1.36},{"g":"W","j":0.18,"v":1.37},{"g":"W","j":0.33,"v":1.35},{"g":"W","j":0.48,"v":1.36},{"g":"W","j":0.63,"v":1.37},{"g":"W","j":0.78,"v":1.35},{"g":"W","j":0.9,"v":1.36},
{"g":"W","j":-0.5,"v":1.32},{"g":"W","j":-0.35,"v":1.33},{"g":"W","j":-0.2,"v":1.31},{"g":"W","j":-0.05,"v":1.32},{"g":"W","j":0.1,"v":1.33},{"g":"W","j":0.25,"v":1.31},{"g":"W","j":0.4,"v":1.32},
{"g":"W","j":-0.5,"v":1.28},{"g":"W","j":-0.35,"v":1.29},{"g":"W","j":-0.2,"v":1.27},{"g":"W","j":-0.05,"v":1.28},{"g":"W","j":0.1,"v":1.29},{"g":"W","j":0.25,"v":1.27},{"g":"W","j":0.4,"v":1.28},{"g":"W","j":0.5,"v":1.29},
{"g":"W","j":-0.38,"v":1.24},{"g":"W","j":-0.23,"v":1.25},{"g":"W","j":-0.08,"v":1.23},{"g":"W","j":0.07,"v":1.24},{"g":"W","j":0.22,"v":1.25},{"g":"W","j":0.38,"v":1.23},
{"g":"W","j":-0.3,"v":1.20},{"g":"W","j":-0.15,"v":1.21},{"g":"W","j":0,"v":1.19},{"g":"W","j":0.15,"v":1.20},{"g":"W","j":0.3,"v":1.21},
{"g":"W","j":-0.2,"v":1.16},{"g":"W","j":-0.05,"v":1.17},{"g":"W","j":0.1,"v":1.15},{"g":"W","j":0.25,"v":1.16},
{"g":"W","j":-0.1,"v":1.12},{"g":"W","j":0.18,"v":1.11},{"g":"W","j":0.3,"v":1.08},{"g":"W","j":0.01,"v":1.00}
 ]
},
"concat": [
 {
  "width": 386, "height": 257,
  "title": {"text": "A)\u00a0\u00a0\u00a0\u00a0\u00a0\u00a0Isoleucine", "dx": -67},
  "layer": [
   {"data": {"name": "sA"}, "mark": {"type": "bar", "stroke": "#000", "strokeWidth": 2, "size": 115},
    "encoding": {
     "x": {"field": "g", "type": "nominal", "title": null, "scale": {"domain": ["M", "W"], "paddingInner": 0.422, "paddingOuter": 0.181, "align": 0.43}, "axis": {"labelExpr": "datum.value == 'M' ? 'MEN' : 'WOMEN'"}},
     "y": {"field": "mean", "type": "quantitative", "title": "Plasma concentration (Log)", "scale": {"domain": [1, 2.5], "nice": false, "zero": false}, "axis": {"values": [1, 1.5, 2, 2.5], "format": ".1f"}},
     "y2": {"datum": 1},
     "fill": {"field": "g", "type": "nominal", "scale": {"domain": ["M", "W"], "range": ["#ffffff", "#fff7a8"]}, "legend": null}}},
   {"data": {"name": "A"}, "mark": {"type": "circle", "size": 26, "fill": "#f4f4f4", "stroke": "#3a3a3a", "strokeWidth": 1.2, "opacity": 1},
    "encoding": {"x": {"field": "g", "type": "nominal", "title": null}, "xOffset": {"field": "j", "type": "quantitative", "scale": {"domain": [-1, 1]}}, "y": {"field": "v", "type": "quantitative", "title": "Plasma concentration (Log)", "scale": {"domain": [1, 2.5], "nice": false, "zero": false}}}},
   {"data": {"name": "sA"}, "mark": {"type": "rule", "strokeWidth": 2.5, "color": "#000"},
    "encoding": {"x": {"field": "g", "type": "nominal", "title": null}, "y": {"field": "lo", "type": "quantitative", "title": "Plasma concentration (Log)", "scale": {"domain": [1, 2.5], "nice": false, "zero": false}}, "y2": {"field": "hi"}}},
   {"data": {"name": "sA"}, "mark": {"type": "tick", "orient": "horizontal", "size": 60, "thickness": 2.5, "color": "#000"},
    "encoding": {"x": {"field": "g", "type": "nominal", "title": null}, "y": {"field": "lo", "type": "quantitative", "title": "Plasma concentration (Log)", "scale": {"domain": [1, 2.5], "nice": false, "zero": false}}}},
   {"data": {"name": "sA"}, "mark": {"type": "tick", "orient": "horizontal", "size": 60, "thickness": 2.5, "color": "#000"},
    "encoding": {"x": {"field": "g", "type": "nominal", "title": null}, "y": {"field": "hi", "type": "quantitative", "title": "Plasma concentration (Log)", "scale": {"domain": [1, 2.5], "nice": false, "zero": false}}}},
   {"data": {"values": [{}]}, "mark": {"type": "rule", "strokeDash": [8, 5.5], "strokeWidth": 2, "color": "#000"}, "encoding": {"y": {"datum": 2.5, "type": "quantitative"}}},
   {"data": {"values": [{}]}, "mark": {"type": "text", "text": "p", "fontStyle": "italic", "fontSize": 17, "align": "left", "baseline": "alphabetic", "dx": -69, "dy": -10}, "encoding": {"x": {"datum": "M", "type": "nominal"}, "y": {"datum": 2.5, "type": "quantitative"}}},
   {"data": {"values": [{}]}, "mark": {"type": "text", "text": "< 0.001", "fontSize": 17, "align": "left", "baseline": "alphabetic", "dx": -52, "dy": -10}, "encoding": {"x": {"datum": "M", "type": "nominal"}, "y": {"datum": 2.5, "type": "quantitative"}}},
   {"data": {"values": [{}]}, "mark": {"type": "text", "text": "***", "fontSize": 28, "fontWeight": "bold", "align": "center", "baseline": "alphabetic"}, "encoding": {"x": {"datum": "W", "type": "nominal"}, "y": {"datum": 2.224, "type": "quantitative"}}}
  ]
 },
 {
  "width": 373, "height": 257,
  "title": {"text": "B)\u00a0\u00a0\u00a0\u00a0\u00a0Leucine", "dx": -77},
  "layer": [
   {"data": {"name": "sB"}, "mark": {"type": "bar", "stroke": "#000", "strokeWidth": 2, "size": 115},
    "encoding": {
     "x": {"field": "g", "type": "nominal", "title": null, "scale": {"domain": ["M", "W"], "paddingInner": 0.42, "paddingOuter": 0.152, "align": 0.52}, "axis": {"labelExpr": "datum.value == 'M' ? 'MEN' : 'WOMEN'"}},
     "y": {"field": "mean", "type": "quantitative", "title": "Plasma concentration (Log)", "scale": {"domain": [1, 3], "nice": false, "zero": false}, "axis": {"values": [1, 1.5, 2, 2.5, 3], "format": ".1f"}},
     "y2": {"datum": 1},
     "fill": {"field": "g", "type": "nominal", "scale": {"domain": ["M", "W"], "range": ["#ffffff", "#fff7a8"]}, "legend": null}}},
   {"data": {"name": "B"}, "mark": {"type": "circle", "size": 26, "fill": "#f4f4f4", "stroke": "#3a3a3a", "strokeWidth": 1.2, "opacity": 1},
    "encoding": {"x": {"field": "g", "type": "nominal", "title": null}, "xOffset": {"field": "j", "type": "quantitative", "scale": {"domain": [-1, 1]}}, "y": {"field": "v", "type": "quantitative", "title": "Plasma concentration (Log)", "scale": {"domain": [1, 3], "nice": false, "zero": false}}}},
   {"data": {"name": "sB"}, "mark": {"type": "rule", "strokeWidth": 2.5, "color": "#000"},
    "encoding": {"x": {"field": "g", "type": "nominal", "title": null}, "y": {"field": "lo", "type": "quantitative", "title": "Plasma concentration (Log)", "scale": {"domain": [1, 3], "nice": false, "zero": false}}, "y2": {"field": "hi"}}},
   {"data": {"name": "sB"}, "mark": {"type": "tick", "orient": "horizontal", "size": 60, "thickness": 2.5, "color": "#000"},
    "encoding": {"x": {"field": "g", "type": "nominal", "title": null}, "y": {"field": "lo", "type": "quantitative", "title": "Plasma concentration (Log)", "scale": {"domain": [1, 3], "nice": false, "zero": false}}}},
   {"data": {"name": "sB"}, "mark": {"type": "tick", "orient": "horizontal", "size": 60, "thickness": 2.5, "color": "#000"},
    "encoding": {"x": {"field": "g", "type": "nominal", "title": null}, "y": {"field": "hi", "type": "quantitative", "title": "Plasma concentration (Log)", "scale": {"domain": [1, 3], "nice": false, "zero": false}}}},
   {"data": {"values": [{}]}, "mark": {"type": "rule", "strokeDash": [8, 5.5], "strokeWidth": 2, "color": "#000"}, "encoding": {"y": {"datum": 3, "type": "quantitative"}}},
   {"data": {"values": [{}]}, "mark": {"type": "text", "text": "p", "fontStyle": "italic", "fontSize": 17, "align": "left", "baseline": "alphabetic", "dx": -69, "dy": -10}, "encoding": {"x": {"datum": "M", "type": "nominal"}, "y": {"datum": 3, "type": "quantitative"}}},
   {"data": {"values": [{}]}, "mark": {"type": "text", "text": "< 0.001", "fontSize": 17, "align": "left", "baseline": "alphabetic", "dx": -52, "dy": -10}, "encoding": {"x": {"datum": "M", "type": "nominal"}, "y": {"datum": 3, "type": "quantitative"}}},
   {"data": {"values": [{}]}, "mark": {"type": "text", "text": "***", "fontSize": 28, "fontWeight": "bold", "align": "center", "baseline": "alphabetic"}, "encoding": {"x": {"datum": "W", "type": "nominal"}, "y": {"datum": 2.634, "type": "quantitative"}}}
  ]
 },
 {
  "width": 386, "height": 256,
  "title": {"text": "C)\u00a0\u00a0\u00a0\u00a0\u00a0\u00a0Glutamine", "dx": -65},
  "layer": [
   {"data": {"name": "sC"}, "mark": {"type": "bar", "stroke": "#000", "strokeWidth": 2, "size": 115},
    "encoding": {
     "x": {"field": "g", "type": "nominal", "title": null, "scale": {"domain": ["M", "W"], "paddingInner": 0.422, "paddingOuter": 0.181, "align": 0.43}, "axis": {"labelExpr": "datum.value == 'M' ? 'MEN' : 'WOMEN'"}},
     "y": {"field": "mean", "type": "quantitative", "title": "Plasma concentration (Log)", "scale": {"domain": [2, 3.5], "nice": false, "zero": false}, "axis": {"values": [2, 2.5, 3, 3.5], "format": ".1f"}},
     "y2": {"datum": 2},
     "fill": {"field": "g", "type": "nominal", "scale": {"domain": ["M", "W"], "range": ["#ffffff", "#fff7a8"]}, "legend": null}}},
   {"data": {"name": "C"}, "mark": {"type": "circle", "size": 26, "fill": "#f4f4f4", "stroke": "#3a3a3a", "strokeWidth": 1.2, "opacity": 1},
    "encoding": {"x": {"field": "g", "type": "nominal", "title": null}, "xOffset": {"field": "j", "type": "quantitative", "scale": {"domain": [-1, 1]}}, "y": {"field": "v", "type": "quantitative", "title": "Plasma concentration (Log)", "scale": {"domain": [2, 3.5], "nice": false, "zero": false}}}},
   {"data": {"name": "sC"}, "mark": {"type": "rule", "strokeWidth": 2.5, "color": "#000"},
    "encoding": {"x": {"field": "g", "type": "nominal", "title": null}, "y": {"field": "lo", "type": "quantitative", "title": "Plasma concentration (Log)", "scale": {"domain": [2, 3.5], "nice": false, "zero": false}}, "y2": {"field": "hi"}}},
   {"data": {"name": "sC"}, "mark": {"type": "tick", "orient": "horizontal", "size": 60, "thickness": 2.5, "color": "#000"},
    "encoding": {"x": {"field": "g", "type": "nominal", "title": null}, "y": {"field": "lo", "type": "quantitative", "title": "Plasma concentration (Log)", "scale": {"domain": [2, 3.5], "nice": false, "zero": false}}}},
   {"data": {"name": "sC"}, "mark": {"type": "tick", "orient": "horizontal", "size": 60, "thickness": 2.5, "color": "#000"},
    "encoding": {"x": {"field": "g", "type": "nominal", "title": null}, "y": {"field": "hi", "type": "quantitative", "title": "Plasma concentration (Log)", "scale": {"domain": [2, 3.5], "nice": false, "zero": false}}}},
   {"data": {"values": [{}]}, "mark": {"type": "rule", "strokeDash": [8, 5.5], "strokeWidth": 2, "color": "#000"}, "encoding": {"y": {"datum": 3.5, "type": "quantitative"}}},
   {"data": {"values": [{}]}, "mark": {"type": "text", "text": "p", "fontStyle": "italic", "fontSize": 17, "align": "left", "baseline": "alphabetic", "dx": -69, "dy": -10}, "encoding": {"x": {"datum": "M", "type": "nominal"}, "y": {"datum": 3.5, "type": "quantitative"}}},
   {"data": {"values": [{}]}, "mark": {"type": "text", "text": "< 0.001", "fontSize": 17, "align": "left", "baseline": "alphabetic", "dx": -52, "dy": -10}, "encoding": {"x": {"datum": "M", "type": "nominal"}, "y": {"datum": 3.5, "type": "quantitative"}}},
   {"data": {"values": [{}]}, "mark": {"type": "text", "text": "***", "fontSize": 28, "fontWeight": "bold", "align": "center", "baseline": "alphabetic"}, "encoding": {"x": {"datum": "W", "type": "nominal"}, "y": {"datum": 3.107, "type": "quantitative"}}}
  ]
 },
 {
  "width": 373, "height": 256,
  "title": {"text": "D)\u00a0\u00a0\u00a0\u00a0\u00a0Glutamate", "dx": -76},
  "layer": [
   {"data": {"name": "sD"}, "mark": {"type": "bar", "stroke": "#000", "strokeWidth": 2, "size": 115},
    "encoding": {
     "x": {"field": "g", "type": "nominal", "title": null, "scale": {"domain": ["M", "W"], "paddingInner": 0.42, "paddingOuter": 0.152, "align": 0.52}, "axis": {"labelExpr": "datum.value == 'M' ? 'MEN' : 'WOMEN'"}},
     "y": {"field": "mean", "type": "quantitative", "title": "Plasma concentration (Log)", "scale": {"domain": [0, 2.5], "nice": false, "zero": false}, "axis": {"values": [0, 0.5, 1, 1.5, 2, 2.5], "format": ".1f"}},
     "y2": {"datum": 0},
     "fill": {"field": "g", "type": "nominal", "scale": {"domain": ["M", "W"], "range": ["#ffffff", "#fff7a8"]}, "legend": null}}},
   {"data": {"name": "D"}, "mark": {"type": "circle", "size": 26, "fill": "#f4f4f4", "stroke": "#3a3a3a", "strokeWidth": 1.2, "opacity": 1},
    "encoding": {"x": {"field": "g", "type": "nominal", "title": null}, "xOffset": {"field": "j", "type": "quantitative", "scale": {"domain": [-1, 1]}}, "y": {"field": "v", "type": "quantitative", "title": "Plasma concentration (Log)", "scale": {"domain": [0, 2.5], "nice": false, "zero": false}}}},
   {"data": {"name": "sD"}, "mark": {"type": "rule", "strokeWidth": 2.5, "color": "#000"},
    "encoding": {"x": {"field": "g", "type": "nominal", "title": null}, "y": {"field": "lo", "type": "quantitative", "title": "Plasma concentration (Log)", "scale": {"domain": [0, 2.5], "nice": false, "zero": false}}, "y2": {"field": "hi"}}},
   {"data": {"name": "sD"}, "mark": {"type": "tick", "orient": "horizontal", "size": 60, "thickness": 2.5, "color": "#000"},
    "encoding": {"x": {"field": "g", "type": "nominal", "title": null}, "y": {"field": "lo", "type": "quantitative", "title": "Plasma concentration (Log)", "scale": {"domain": [0, 2.5], "nice": false, "zero": false}}}},
   {"data": {"name": "sD"}, "mark": {"type": "tick", "orient": "horizontal", "size": 60, "thickness": 2.5, "color": "#000"},
    "encoding": {"x": {"field": "g", "type": "nominal", "title": null}, "y": {"field": "hi", "type": "quantitative", "title": "Plasma concentration (Log)", "scale": {"domain": [0, 2.5], "nice": false, "zero": false}}}},
   {"data": {"values": [{}]}, "mark": {"type": "rule", "strokeDash": [8, 5.5], "strokeWidth": 2, "color": "#000"}, "encoding": {"y": {"datum": 2.5, "type": "quantitative"}}},
   {"data": {"values": [{}]}, "mark": {"type": "text", "text": "p", "fontStyle": "italic", "fontSize": 17, "align": "left", "baseline": "alphabetic", "dx": -69, "dy": -10}, "encoding": {"x": {"datum": "M", "type": "nominal"}, "y": {"datum": 2.5, "type": "quantitative"}}},
   {"data": {"values": [{}]}, "mark": {"type": "text", "text": "< 0.01", "fontSize": 17, "align": "left", "baseline": "alphabetic", "dx": -52, "dy": -10}, "encoding": {"x": {"datum": "M", "type": "nominal"}, "y": {"datum": 2.5, "type": "quantitative"}}},
   {"data": {"values": [{}]}, "mark": {"type": "text", "text": "**", "fontSize": 28, "fontWeight": "bold", "align": "center", "baseline": "alphabetic"}, "encoding": {"x": {"datum": "W", "type": "nominal"}, "y": {"datum": 2.23, "type": "quantitative"}}}
  ]
 }
]
}
